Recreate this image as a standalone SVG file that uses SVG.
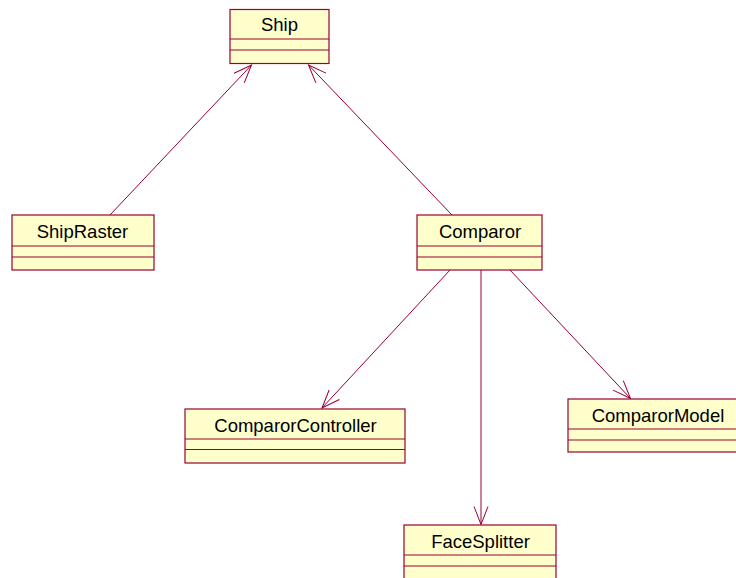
<svg xmlns="http://www.w3.org/2000/svg" width="736" height="578" viewBox="0 0 736 578">
<style>
.box{fill:#FFFFCC;stroke:#990033;stroke-width:1.2}
.sep{stroke:#990033;stroke-width:1.2;fill:none}
.lbl{font-family:"Liberation Sans",Arial,sans-serif;font-size:18.5px;fill:#000;text-anchor:middle}
.conn{stroke:#990033;stroke-width:1;fill:none}
</style>
<defs>
<marker id="open" markerUnits="userSpaceOnUse" markerWidth="24" markerHeight="20" refX="0" refY="0" viewBox="-21 -10 24 20" orient="auto" overflow="visible">
<path d="M -18 -7 L 0 0 L -18 7" fill="none" stroke="#990033" stroke-width="1"/>
</marker>
</defs>
<rect width="736" height="578" fill="#FFFFFF"/>
<g id="connectors">
<line class="conn" x1="110" y1="215" x2="251.5" y2="65" marker-end="url(#open)"/>
<line class="conn" x1="452" y1="215" x2="308.5" y2="65" marker-end="url(#open)"/>
<line class="conn" x1="450" y1="270" x2="322" y2="408" marker-end="url(#open)"/>
<line class="conn" x1="481" y1="270" x2="481" y2="524.5" marker-end="url(#open)"/>
<line class="conn" x1="510" y1="270" x2="630.5" y2="398.5" marker-end="url(#open)"/>
</g>
<g id="Ship">
<rect class="box" x="230" y="9.5" width="99" height="54"/>
<line class="sep" x1="230" y1="39" x2="329" y2="39"/>
<line class="sep" x1="230" y1="50" x2="329" y2="50"/>
<text class="lbl" x="279.5" y="31">Ship</text>
</g>
<g id="ShipRaster">
<rect class="box" x="12" y="215" width="142" height="55"/>
<line class="sep" x1="12" y1="246" x2="154" y2="246"/>
<line class="sep" x1="12" y1="257" x2="154" y2="257"/>
<text class="lbl" x="82.5" y="238">ShipRaster</text>
</g>
<g id="Comparor">
<rect class="box" x="417" y="215" width="125" height="55"/>
<line class="sep" x1="417" y1="246" x2="542" y2="246"/>
<line class="sep" x1="417" y1="257" x2="542" y2="257"/>
<text class="lbl" x="480" y="238">Comparor</text>
</g>
<g id="ComparorController">
<rect class="box" x="185" y="409" width="220" height="54"/>
<line class="sep" x1="185" y1="439" x2="405" y2="439"/>
<line class="sep" x1="185" y1="449.5" x2="405" y2="449.5"/>
<text class="lbl" x="295.5" y="432">ComparorController</text>
</g>
<g id="ComparorModel">
<rect class="box" x="568" y="399" width="180" height="53"/>
<line class="sep" x1="568" y1="429" x2="748" y2="429"/>
<line class="sep" x1="568" y1="440" x2="748" y2="440"/>
<text class="lbl" x="658" y="422">ComparorModel</text>
</g>
<g id="FaceSplitter">
<rect class="box" x="404" y="525" width="152" height="60"/>
<line class="sep" x1="404" y1="555" x2="556" y2="555"/>
<line class="sep" x1="404" y1="566" x2="556" y2="566"/>
<text class="lbl" x="480.5" y="548">FaceSplitter</text>
</g>
</svg>
